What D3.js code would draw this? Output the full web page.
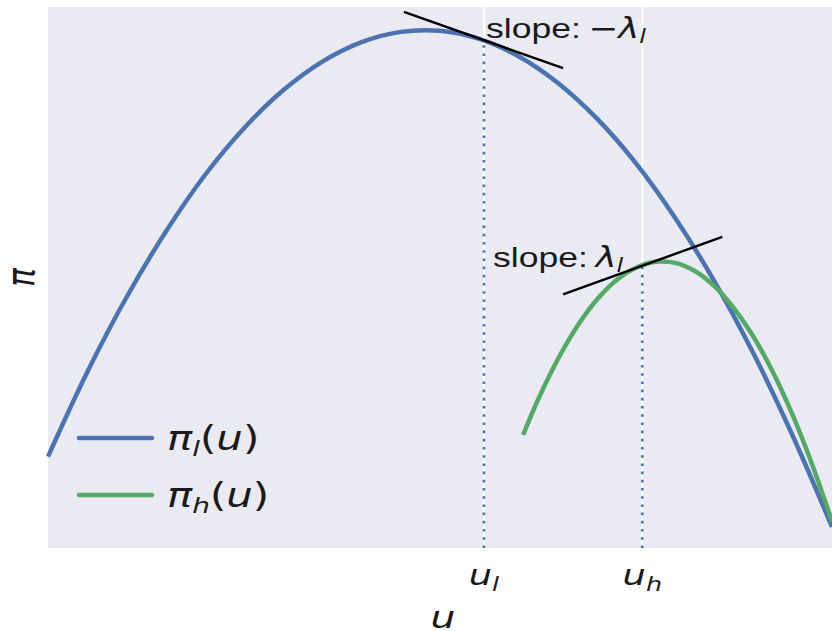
<!DOCTYPE html>
<html>
<head>
<meta charset="utf-8">
<script src="https://cdn.jsdelivr.net/npm/d3@7"></script>
<style>
  body { margin: 0; background: #fff; }
  svg { display: block; }
</style>
</head>
<body>
<svg id="chart" width="832" height="631"></svg>
<script>
// values (u on a 0..10 axis, pi on a 0..10 axis)
const uLow = [0, 0.5, 1, 1.5, 2, 2.5, 3, 3.5, 4, 4.5, 5, 5.5, 6, 6.5, 7, 7.5, 8, 8.5, 9, 9.5, 10];
const piLow = [1.69, 3.25, 4.63, 5.84, 6.89, 7.76, 8.46, 8.99, 9.35, 9.54, 9.56, 9.41, 9.09, 8.60, 7.94, 7.11, 6.10, 4.93, 3.59, 2.07, 0.39];

const uHigh = [6.06, 6.25, 6.5, 6.75, 7, 7.25, 7.5, 7.75, 8, 8.25, 8.5, 8.75, 9, 9.25, 9.5, 9.75, 10];
const piHigh = [2.09, 2.74, 3.48, 4.10, 4.59, 4.95, 5.18, 5.29, 5.27, 5.12, 4.84, 4.43, 3.90, 3.24, 2.45, 1.53, 0.49];

const tickU = [5.56, 7.58]; // u_l, u_h
const tickLabels = [["u", "l"], ["u", "h"]];
const dropTop = [9.38, 5.24]; // where the dotted lines meet the curves

const tangentLow = [[4.54, 9.91], [6.57, 8.87]];
const tangentHigh = [[6.57, 4.69], [8.60, 5.75]];

const svg = d3.select("#chart");
const plotL = 48, plotR = 832, plotT = 7, plotB = 548;
const stretch = 1.27; // the picture is wider than tall in its text

const x = d3.scaleLinear().domain([0, 10]).range([plotL, plotR]);
const y = d3.scaleLinear().domain([0, 10]).range([plotB, plotT]);

const blue = "#4C72B0", green = "#55A868";

// axes background
svg.append("rect")
  .attr("x", plotL).attr("y", plotT)
  .attr("width", plotR - plotL).attr("height", plotB - plotT)
  .attr("fill", "#EAEAF2");

// white grid at the two ticks
svg.selectAll(".grid").data(tickU).enter().append("line")
  .attr("class", "grid")
  .attr("x1", d => x(d)).attr("x2", d => x(d))
  .attr("y1", plotT).attr("y2", plotB)
  .attr("stroke", "#fff").attr("stroke-width", 1.8);

const line = d3.line().x(d => x(d[0])).y(d => y(d[1])).curve(d3.curveCatmullRom.alpha(0.5));

// dotted drop lines
svg.selectAll(".drop").data(tickU).enter().append("line")
  .attr("class", "drop")
  .attr("x1", d => x(d)).attr("x2", d => x(d))
  .attr("y1", plotB).attr("y2", (d, i) => y(dropTop[i]))
  .attr("stroke", blue).attr("stroke-width", 2.6)
  .attr("stroke-dasharray", "2.6,5.6");

// curves
svg.append("path")
  .attr("d", line(uLow.map((u, i) => [u, piLow[i]])))
  .attr("fill", "none").attr("stroke", blue).attr("stroke-width", 4.5);

svg.append("path")
  .attr("d", line(uHigh.map((u, i) => [u, piHigh[i]])))
  .attr("fill", "none").attr("stroke", green).attr("stroke-width", 4.5);

// tangent lines
[tangentLow, tangentHigh].forEach(t => {
  svg.append("line")
    .attr("x1", x(t[0][0])).attr("y1", y(t[0][1]))
    .attr("x2", x(t[1][0])).attr("y2", y(t[1][1]))
    .attr("stroke", "#000").attr("stroke-width", 2.4);
});

// helper for stretched text
function label(px, py, anchor) {
  return svg.append("text")
    .attr("transform", `translate(${px},${py}) scale(${stretch},1)`)
    .attr("text-anchor", anchor || "start")
    .attr("fill", "#1a1a1a");
}

const mathFont = "DejaVu Sans";
const textFont = "Liberation Sans, Arial, sans-serif";

// annotation 1
let t1 = label(486, 38).attr("font-size", 28);
t1.append("tspan").attr("font-family", textFont).text("slope:");
t1.append("tspan").attr("font-family", mathFont).attr("dx", 6).text("\u2212");
t1.append("tspan").attr("font-family", mathFont).attr("font-style", "italic").text("\u03bb");
t1.append("tspan").attr("font-family", mathFont).attr("font-style", "italic")
  .attr("font-size", 19).attr("dy", 5).text("l");

// annotation 2
let t2 = label(493, 267).attr("font-size", 28);
t2.append("tspan").attr("font-family", textFont).text("slope:");
t2.append("tspan").attr("font-family", mathFont).attr("font-style", "italic").attr("dx", 6).text("\u03bb");
t2.append("tspan").attr("font-family", mathFont).attr("font-style", "italic")
  .attr("font-size", 19).attr("dy", 5).text("l");

// tick labels
tickU.forEach((u, i) => {
  const t = label(x(u), 585, "middle").attr("font-family", mathFont).attr("font-style", "italic").attr("font-size", 29);
  t.append("tspan").text(tickLabels[i][0]);
  t.append("tspan").attr("font-size", 20).attr("dy", 6).text(tickLabels[i][1]);
});

// axis labels
label(443, 628, "middle").attr("font-family", mathFont).attr("font-style", "italic").attr("font-size", 31).text("u");
svg.append("text")
  .attr("transform", `translate(34,${(plotT + plotB) / 2}) rotate(-90) scale(1,${stretch})`)
  .attr("text-anchor", "middle")
  .attr("font-family", mathFont).attr("font-style", "italic").attr("font-size", 31)
  .attr("fill", "#1a1a1a").text("\u03c0");

// legend
const legendItems = [
  { color: blue, sub: "l" },
  { color: green, sub: "h" }
];
legendItems.forEach((d, i) => {
  const ly = 438 + i * 57;
  svg.append("line")
    .attr("x1", 79).attr("x2", 152).attr("y1", ly).attr("y2", ly)
    .attr("stroke", d.color).attr("stroke-width", 4.5).attr("stroke-linecap", "round");
  const t = label(167, ly + 12).attr("font-family", mathFont).attr("font-size", 33);
  t.append("tspan").attr("font-style", "italic").text("\u03c0");
  t.append("tspan").attr("font-style", "italic").attr("font-size", 22).attr("dy", 6).text(d.sub);
  t.append("tspan").attr("dy", -6).text("(");
  t.append("tspan").attr("font-style", "italic").text("u");
  t.append("tspan").text(")");
});
</script>
</body>
</html>
